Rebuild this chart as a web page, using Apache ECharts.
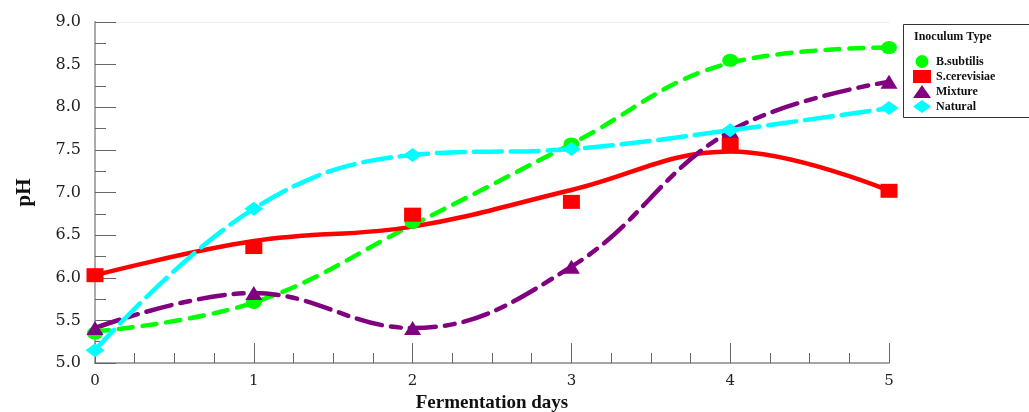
<!DOCTYPE html>
<html><head><meta charset="utf-8">
<script src="https://cdn.jsdelivr.net/npm/echarts@6/dist/echarts.min.js"></script>
<style>html,body{margin:0;padding:0;background:#fff}#c{width:1029px;height:412px}</style>
</head><body><div id="c"></div>
<script>
const days = [0, 1, 2, 3, 4, 5];
const names = ['B.subtilis', 'S.cerevisiae', 'Mixture', 'Natural'];
// measured points (markers)
const bSubtilis   = [5.35, 5.71, 6.65, 7.57, 8.55, 8.70];
const sCerevisiae = [6.03, 6.36, 6.74, 6.89, 7.56, 7.02];
const mixture     = [5.41, 5.82, 5.41, 6.13, 7.72, 8.30];
const natural     = [5.15, 6.81, 7.44, 7.51, 7.73, 7.99];
// fitted curves (drawn lines)
const bSubtilisCurve   = [5.37, 5.71, 6.62, 7.57, 8.52, 8.70];
const sCerevisiaeCurve = [6.03, 6.43, 6.60, 7.03, 7.48, 7.02];
const mixtureCurve     = [5.41, 5.82, 5.41, 6.13, 7.72, 8.30];
const naturalCurve     = [5.15, 6.81, 7.44, 7.51, 7.73, 7.99];
const yTicks = ['5.0','5.5','6.0','6.5','7.0','7.5','8.0','8.5','9.0'];

const colors = ['#00ff00', '#ff0000', '#800080', '#00ffff'];
const symbols = ['circle', 'rect', 'triangle', 'diamond'];
const symSizes = [[16,13],[17,14],[17,14],[19,14]];
const points = [bSubtilis, sCerevisiae, mixture, natural];
const curves = [bSubtilisCurve, sCerevisiaeCurve, mixtureCurve, naturalCurve];
const dashes = [[14, 10], 'solid', [26, 9, 10, 9], [28, 9]];

const pair = arr => days.map((d, i) => [d, arr[i]]);
const serif = '"DejaVu Serif", "Liberation Serif", serif';
const serif2 = '"Liberation Serif", "DejaVu Serif", serif';

const series = [];
curves.forEach((c, i) => {
  series.push({
    name: names[i] + ' curve', type: 'line', data: pair(c), smooth: 0.4,
    showSymbol: false, symbol: 'none', z: 2,
    lineStyle: { color: colors[i], width: 4.5, type: dashes[i], cap: 'round' },
    silent: true
  });
});
points.forEach((p, i) => {
  series.push({
    name: names[i], type: 'scatter', data: pair(p), symbol: symbols[i],
    symbolSize: symSizes[i], itemStyle: { color: colors[i], opacity: 1 }, z: 3
  });
});

const chart = echarts.init(document.getElementById('c'), null, { renderer: 'canvas' });
chart.setOption({
  animation: false,
  backgroundColor: '#fff',
  grid: { left: 95, right: 140, top: 22, bottom: 49, containLabel: false, outerBoundsMode: 'none' },
  xAxis: [{
    type: 'value', min: 0, max: 5, interval: 1,
    name: 'Fermentation days', nameLocation: 'middle', nameGap: 30,
    nameTextStyle: { fontFamily: serif2, fontWeight: 'bold', fontSize: 19, color: '#111' },
    axisLine: { show: true, onZero: false, lineStyle: { color: '#888', width: 1.5 } },
    axisTick: { show: true, inside: true, length: 20, lineStyle: { color: '#666' } },
    minorTick: { show: true, splitNumber: 4, length: 10, lineStyle: { color: '#666' } },
    axisLabel: { fontFamily: serif, fontSize: 15, color: '#222', margin: 11 },
    splitLine: { show: false }
  }, {
    type: 'value', min: 0, max: 5, position: 'top',
    axisLine: { show: true, lineStyle: { color: '#eee' } },
    axisTick: { show: false }, axisLabel: { show: false }, splitLine: { show: false }
  }],
  yAxis: [{
    type: 'value', min: 5, max: 9, interval: 0.5,
    name: 'pH', nameLocation: 'middle', nameGap: 60, nameRotate: 90,
    nameTextStyle: { fontFamily: serif2, fontWeight: 'bold', fontSize: 21, color: '#111' },
    axisLine: { show: true, lineStyle: { color: '#555', width: 1.5 } },
    axisTick: { show: true, inside: true, length: 21, lineStyle: { color: '#666' } },
    minorTick: { show: true, splitNumber: 2, length: 11, lineStyle: { color: '#666' } },
    axisLabel: { fontFamily: serif, fontSize: 16, color: '#222', margin: 14,
      formatter: v => yTicks[Math.round((v - 5) / 0.5)] },
    splitLine: { show: false }
  }, {
    type: 'value', min: 5, max: 9, position: 'right',
    axisLine: { show: true, lineStyle: { color: '#aaa', width: 2 } },
    axisTick: { show: false }, axisLabel: { show: false }, splitLine: { show: false }
  }],
  legend: {
    data: names, orient: 'vertical', left: 908, top: 50, itemGap: 2,
    itemWidth: 18, itemHeight: 13,
    textStyle: { fontFamily: serif2, fontWeight: 'bold', fontSize: 12, color: '#111' },
    selectedMode: false
  },
  graphic: [
    { type: 'rect', left: 901, top: 22, shape: { width: 140, height: 93 },
      style: { fill: 'none', stroke: '#333', lineWidth: 1 }, z: 0 },
    { type: 'text', left: 914, top: 31,
      style: { text: 'Inoculum Type', font: 'bold 12px "Liberation Serif", serif', fill: '#111' } }
  ],
  series: series
});
</script></body></html>
